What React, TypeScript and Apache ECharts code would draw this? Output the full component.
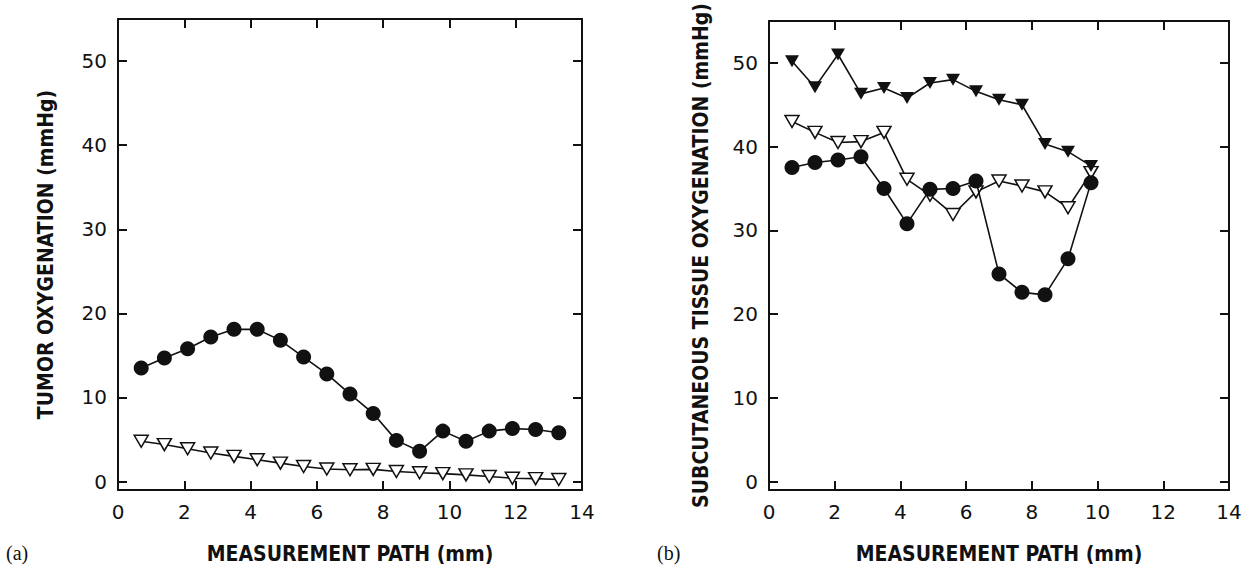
import React, { useEffect, useRef } from "react";
import * as echarts from "echarts";

// Panel (a): tumor
const pathA = [0.7, 1.4, 2.1, 2.8, 3.5, 4.2, 4.9, 5.6, 6.3, 7.0, 7.7, 8.4, 9.1, 9.8, 10.5, 11.2, 11.9, 12.6, 13.3];
const tumorCircles = [13.5, 14.7, 15.8, 17.2, 18.1, 18.1, 16.8, 14.8, 12.8, 10.4, 8.1, 4.9, 3.6, 6.0, 4.8, 6.0, 6.3, 6.2, 5.8];
const tumorOpenTri = [4.8, 4.4, 3.9, 3.4, 3.0, 2.6, 2.2, 1.8, 1.5, 1.4, 1.45, 1.2, 1.05, 0.95, 0.8, 0.6, 0.4, 0.35, 0.25];

// Panel (b): subcutaneous tissue
const pathB = [0.7, 1.4, 2.1, 2.8, 3.5, 4.2, 4.9, 5.6, 6.3, 7.0, 7.7, 8.4, 9.1, 9.8];
const subFilledTri = [50.2, 47.1, 51.0, 46.3, 47.0, 45.8, 47.6, 48.0, 46.6, 45.6, 45.0, 40.3, 39.4, 37.7];
const subOpenTri = [43.0, 41.7, 40.5, 40.6, 41.7, 36.1, 34.2, 31.9, 34.6, 35.9, 35.3, 34.6, 32.7, 36.9];
const subCircles = [37.5, 38.1, 38.4, 38.8, 35.0, 30.8, 34.9, 35.0, 35.9, 24.8, 22.6, 22.3, 26.6, 35.7];

const yTickValues = [0, 10, 20, 30, 40, 50];
const xTitle = "MEASUREMENT PATH (mm)";
const yTitleA = "TUMOR OXYGENATION (mmHg)";
const yTitleB = "SUBCUTANEOUS TISSUE OXYGENATION (mmHg)";

export default function App() {
  const ref = useRef<HTMLDivElement>(null);

  useEffect(() => {
    const chart = echarts.init(ref.current!, null, { renderer: "svg" });
    const ink = "#111";
    const tickFont = { fontFamily: "'DejaVu Sans', sans-serif", fontSize: 20, color: ink };
    const nameFont = {
      fontFamily: "'DejaVu Sans Condensed', 'DejaVu Sans', sans-serif",
      fontWeight: "bold" as const,
      fontSize: 21,
      color: ink,
    };
    const axisLine = { show: true, onZero: false, lineStyle: { color: ink, width: 2 } };

    const xAxes: any[] = [];
    const yAxes: any[] = [];
    [0, 1].forEach((g) => {
      xAxes.push({
        type: "value",
        gridIndex: g,
        position: "bottom",
        min: 0,
        max: 14,
        interval: 2,
        name: xTitle,
        nameLocation: "middle",
        nameGap: 53,
        nameTextStyle: nameFont,
        axisLine,
        axisTick: { show: true, inside: true, length: 9, lineStyle: { color: ink, width: 2 } },
        axisLabel: { ...tickFont, margin: 12 },
        splitLine: { show: false },
      });
      xAxes.push({
        type: "value",
        gridIndex: g,
        position: "top",
        min: 0,
        max: 14,
        interval: 2,
        axisLine,
        axisTick: { show: true, inside: true, length: 9, lineStyle: { color: ink, width: 2 } },
        axisLabel: { show: false },
        splitLine: { show: false },
      });
      yAxes.push({
        type: "value",
        gridIndex: g,
        position: "left",
        min: -1,
        max: 55,
        name: g === 0 ? yTitleA : yTitleB,
        nameLocation: "middle",
        nameGap: g === 0 ? 62 : 58,
        nameTextStyle: nameFont,
        axisLine,
        axisTick: { show: true, inside: true, length: 9, customValues: yTickValues, lineStyle: { color: ink, width: 2 } },
        axisLabel: { ...tickFont, margin: 11, customValues: yTickValues },
        splitLine: { show: false },
      });
      yAxes.push({
        type: "value",
        gridIndex: g,
        position: "right",
        min: -1,
        max: 55,
        axisLine,
        axisTick: { show: true, inside: true, length: 9, customValues: yTickValues, lineStyle: { color: ink, width: 2 } },
        axisLabel: { show: false, customValues: yTickValues },
        splitLine: { show: false },
      });
    });

    const pairs = (xs: number[], ys: number[]) => xs.map((x, i) => [x, ys[i]]);
    const lineSeries = (
      name: string,
      g: number,
      data: number[][],
      kind: "circle" | "openTri" | "filledTri",
      z: number
    ) => ({
      type: "line",
      name,
      xAxisIndex: g * 2,
      yAxisIndex: g * 2,
      data,
      z,
      symbol: kind === "circle" ? "circle" : "triangle",
      symbolSize: kind === "circle" ? 15 : [14, 12],
      symbolRotate: kind === "circle" ? 0 : 180,
      showAllSymbol: true,
      lineStyle: { color: ink, width: 1.6 },
      itemStyle: {
        color: kind === "openTri" ? "#fff" : ink,
        borderColor: ink,
        borderWidth: kind === "openTri" ? 1.5 : 0,
      },
      emphasis: { disabled: true },
    });

    chart.setOption({
      animation: false,
      backgroundColor: "#fff",
      grid: [
        { left: 118, top: 19, width: 464, height: 471 },
        { left: 769, top: 21, width: 460, height: 469 },
      ],
      xAxis: xAxes,
      yAxis: yAxes,
      series: [
        lineSeries("tumor open", 0, pairs(pathA, tumorOpenTri), "openTri", 2),
        lineSeries("tumor filled", 0, pairs(pathA, tumorCircles), "circle", 3),
        lineSeries("sub open", 1, pairs(pathB, subOpenTri), "openTri", 2),
        lineSeries("sub circles", 1, pairs(pathB, subCircles), "circle", 3),
        lineSeries("sub filled tri", 1, pairs(pathB, subFilledTri), "filledTri", 4),
      ],
      graphic: [
        {
          type: "text",
          left: 6,
          top: 543,
          style: { text: "(a)", font: "20px 'Liberation Serif', 'DejaVu Serif', serif", fill: ink },
        },
        {
          type: "text",
          left: 657,
          top: 543,
          style: { text: "(b)", font: "20px 'Liberation Serif', 'DejaVu Serif', serif", fill: ink },
        },
      ],
    });

    return () => chart.dispose();
  }, []);

  return (
    <div
      ref={ref}
      style={{ position: "fixed", left: 0, top: 0, width: 1252, height: 571, background: "#fff" }}
    />
  );
}
